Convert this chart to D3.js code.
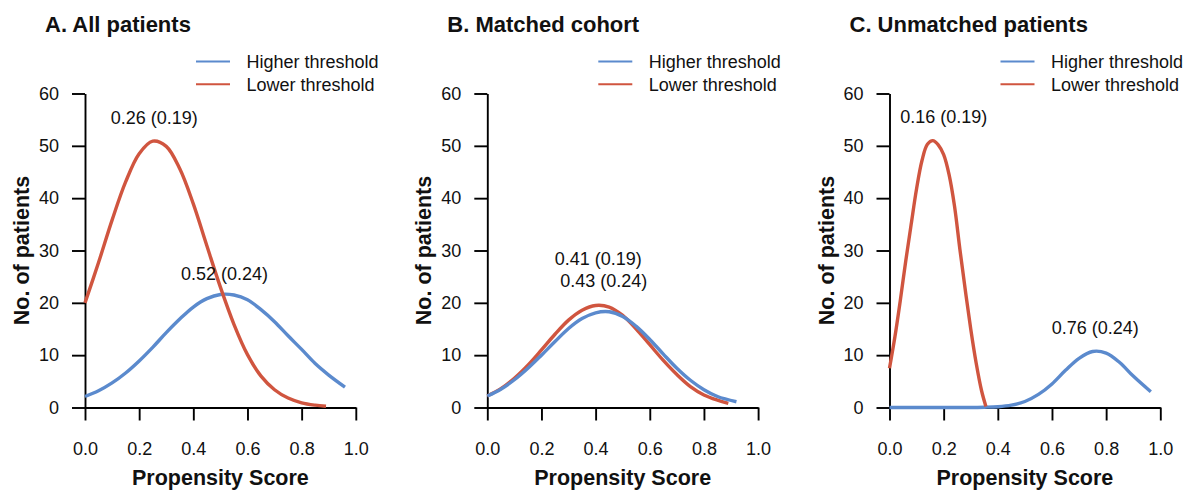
<!DOCTYPE html>
<html>
<head>
<meta charset="utf-8">
<script src="https://cdn.jsdelivr.net/npm/d3@7"></script>
<style>
  html, body { margin: 0; padding: 0; background: #ffffff; }
  svg { display: block; font-family: "Liberation Sans", Arial, Helvetica, sans-serif; }
</style>
</head>
<body>
<svg id="chart" width="1188" height="490"></svg>
<script>
// ---- Data ---------------------------------------------------------------
const panelTitles = ["A. All patients", "B. Matched cohort", "C. Unmatched patients"];
const seriesNames = ["Higher threshold", "Lower threshold"];
const xTicks = [0, 0.2, 0.4, 0.6, 0.8, 1.0];
const yTicks = [0, 10, 20, 30, 40, 50, 60];

// A. All patients
const scoreA_higher = [0, 0.05, 0.10, 0.15, 0.20, 0.25, 0.30, 0.35, 0.40, 0.45, 0.50, 0.55, 0.60, 0.65, 0.70, 0.75, 0.80, 0.85, 0.90, 0.96];
const countA_higher = [2.1, 3.2, 4.7, 6.6, 8.9, 11.5, 14.3, 16.9, 19.2, 20.8, 21.6, 21.5, 20.6, 18.7, 16.4, 13.7, 11.1, 8.4, 6.2, 3.9];
const scoreA_lower = [0, 0.05, 0.10, 0.15, 0.20, 0.25, 0.30, 0.35, 0.40, 0.45, 0.50, 0.55, 0.60, 0.65, 0.70, 0.75, 0.80, 0.85, 0.89];
const countA_lower = [20.0, 27.7, 35.8, 43.1, 48.5, 50.9, 49.9, 45.6, 38.9, 30.9, 23.0, 15.9, 10.1, 6.0, 3.4, 1.8, 0.9, 0.45, 0.25];

// B. Matched cohort
const scoreB_higher = [0, 0.05, 0.10, 0.15, 0.20, 0.25, 0.30, 0.35, 0.40, 0.45, 0.50, 0.55, 0.60, 0.65, 0.70, 0.75, 0.80, 0.85, 0.92];
const countB_higher = [2.2, 3.5, 5.3, 7.5, 10.0, 12.6, 15.1, 17.0, 18.1, 18.3, 17.4, 15.5, 13.0, 10.2, 7.5, 5.2, 3.4, 2.1, 1.1];
const scoreB_lower = [0, 0.05, 0.10, 0.15, 0.20, 0.25, 0.30, 0.35, 0.40, 0.45, 0.50, 0.55, 0.60, 0.65, 0.70, 0.75, 0.80, 0.85, 0.89];
const countB_lower = [2.2, 3.6, 5.6, 8.1, 11.0, 14.0, 16.7, 18.6, 19.5, 19.2, 17.6, 15.0, 12.0, 9.0, 6.3, 4.0, 2.4, 1.4, 0.8];

// C. Unmatched patients
const scoreC_higher = [0, 0.10, 0.20, 0.30, 0.35, 0.40, 0.45, 0.50, 0.55, 0.60, 0.65, 0.70, 0.75, 0.80, 0.85, 0.90, 0.965];
const countC_higher = [0, 0, 0, 0, 0.05, 0.15, 0.45, 1.15, 2.5, 4.5, 7.1, 9.4, 10.7, 10.4, 8.6, 6.0, 3.0];
const scoreC_lower = [0, 0.02, 0.04, 0.06, 0.08, 0.10, 0.12, 0.14, 0.16, 0.18, 0.20, 0.22, 0.24, 0.26, 0.28, 0.30, 0.32, 0.34, 0.356];
const countC_lower = [7.5, 13.5, 20.5, 28.0, 35.0, 41.8, 47.2, 50.3, 51.0, 50.2, 48.3, 44.5, 38.5, 30.2, 22.4, 15.0, 8.5, 3.2, 0.2];

// Mean (SD) annotations: text and anchor in data units
const labelTexts  = [["0.26 (0.19)", "0.52 (0.24)"], ["0.41 (0.19)", "0.43 (0.24)"], ["0.16 (0.19)", "0.76 (0.24)"]];
const labelScores = [[0.256, 0.515], [0.41, 0.43], [0.20, 0.76]];
const labelCounts = [[54.2, 24.4], [27.2, 23.0], [54.3, 14.1]];

// ---- Layout & style -----------------------------------------------------
const colors = { higher: "#5b8acd", lower: "#d0553f" };
const panelLeft = [85, 487.3, 889.5];
const plotW = 270.8;
const plotTop = 93.5, plotBottom = 407.5;

const panels = [
  { higher: d3.zip(scoreA_higher, countA_higher), lower: d3.zip(scoreA_lower, countA_lower), lowerOnTop: true },
  { higher: d3.zip(scoreB_higher, countB_higher), lower: d3.zip(scoreB_lower, countB_lower), lowerOnTop: false },
  { higher: d3.zip(scoreC_higher, countC_higher), lower: d3.zip(scoreC_lower, countC_lower), lowerOnTop: true }
];

const svg = d3.select("#chart");
const y = d3.scaleLinear().domain([0, 60]).range([plotBottom, plotTop]);

panels.forEach((p, i) => {
  const x0 = panelLeft[i];
  const x = d3.scaleLinear().domain([0, 1]).range([x0, x0 + plotW]);
  const g = svg.append("g");

  // Title
  g.append("text")
    .attr("x", x0 - 40).attr("y", 32)
    .attr("font-size", 22).attr("font-weight", "bold").attr("fill", "#111")
    .text(panelTitles[i]);

  // Legend
  const leg = g.append("g").attr("transform", `translate(${x0 + 111},0)`);
  [["higher", 61.5, 67.7], ["lower", 84.3, 91]].forEach(([key, ly, ty], k) => {
    leg.append("line")
      .attr("x1", 0).attr("x2", 34).attr("y1", ly).attr("y2", ly)
      .attr("stroke", colors[key]).attr("stroke-width", 2);
    leg.append("text")
      .attr("x", 50.5).attr("y", ty)
      .attr("font-size", 18).attr("fill", "#111")
      .text(seriesNames[k]);
  });

  // Axes
  const xAxis = d3.axisBottom(x).tickValues(xTicks).tickFormat(d3.format(".1f"))
    .tickSize(13).tickPadding(22).tickSizeOuter(0);
  const yAxis = d3.axisLeft(y).tickValues(yTicks).tickFormat(d3.format("d"))
    .tickSize(13).tickPadding(13).tickSizeOuter(0);

  const gx = g.append("g").attr("transform", `translate(0,${plotBottom})`).call(xAxis);
  const gy = g.append("g").attr("transform", `translate(${x0},0)`).call(yAxis);
  [gx, gy].forEach(ax => {
    ax.selectAll("path, line").attr("stroke", "#000").attr("stroke-width", 1.9);
    ax.selectAll("text").attr("font-size", 18).attr("fill", "#111")
      .attr("font-family", "'Liberation Sans', Arial, sans-serif");
  });

  // Axis titles
  g.append("text")
    .attr("x", x0 + plotW / 2).attr("y", 485)
    .attr("text-anchor", "middle")
    .attr("font-size", 21.5).attr("font-weight", "bold").attr("fill", "#111")
    .text("Propensity Score");
  g.append("text")
    .attr("transform", `translate(${x0 - 56},${(plotTop + plotBottom) / 2}) rotate(-90)`)
    .attr("text-anchor", "middle")
    .attr("font-size", 21.5).attr("font-weight", "bold").attr("fill", "#111")
    .text("No. of patients");

  // Density curves
  const line = d3.line().x(d => x(d[0])).y(d => y(d[1])).curve(d3.curveCatmullRom.alpha(0.5));
  const order = p.lowerOnTop ? ["higher", "lower"] : ["lower", "higher"];
  order.forEach(key => {
    g.append("path")
      .datum(p[key])
      .attr("d", line)
      .attr("fill", "none")
      .attr("stroke", colors[key])
      .attr("stroke-width", 3.4)
      .attr("stroke-linejoin", "round");
  });

  // Mean (SD) labels
  labelTexts[i].forEach((t, k) => {
    g.append("text")
      .attr("x", x(labelScores[i][k])).attr("y", y(labelCounts[i][k]))
      .attr("text-anchor", "middle")
      .attr("font-size", 18).attr("fill", "#111")
      .text(t);
  });
});
</script>
</body>
</html>
